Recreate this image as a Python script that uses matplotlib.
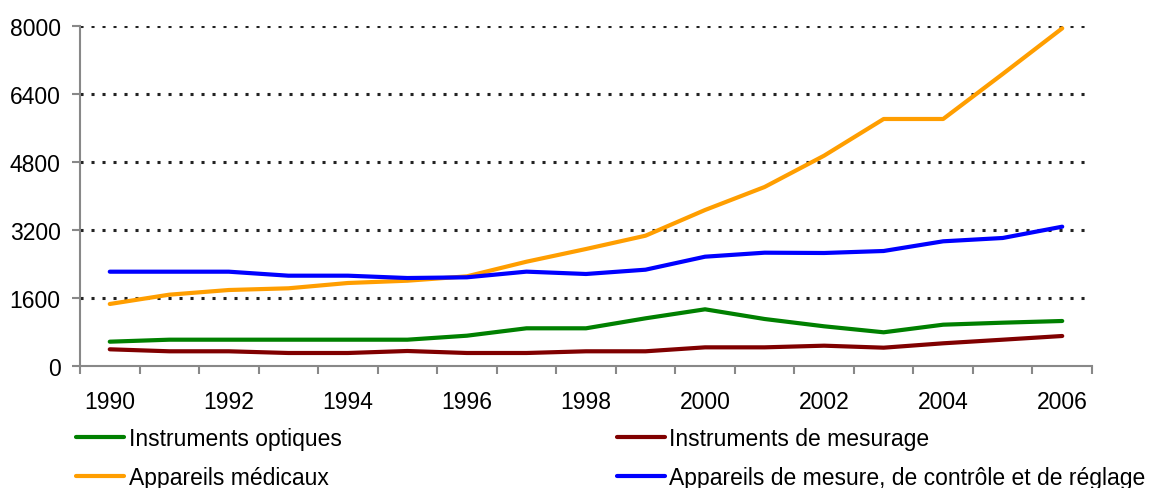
import matplotlib
matplotlib.use("Agg")
import matplotlib.pyplot as plt
from matplotlib.ticker import FixedLocator, NullFormatter
import numpy as np

plt.rcParams['font.family'] = ['Liberation Sans', 'DejaVu Sans']

years = list(range(1990, 2007))

optiques = [572, 619, 619, 619, 619, 619, 713, 887, 887, 1122, 1334,
            1106, 934, 793, 972, 1019, 1059]
mesurage = [393, 346, 346, 306, 306, 353, 306, 306, 346, 346, 439,
            439, 478, 431, 534, 619, 706]
medicaux = [1459, 1678, 1788, 1828, 1953, 2007, 2110, 2454, 2753, 3066, 3671,
            4212, 4949, 5812, 5812, 6871, 7946]
controle = [2219, 2219, 2219, 2125, 2125, 2070, 2087, 2220, 2165, 2266, 2572,
            2666, 2659, 2706, 2934, 3012, 3278]

labels = ["Instruments optiques", "Instruments de mesurage",
          "Appareils médicaux",
          "Appareils de mesure, de contrôle et de réglage"]
colors = ["#008000", "#800000", "#FF9E00", "#0000FF"]
series = [optiques, mesurage, medicaux, controle]

yticks = [0, 1600, 3200, 4800, 6400, 8000]

fig = plt.figure(figsize=(11.56, 4.89), dpi=100)
ax = fig.add_axes([80 / 1156, 1 - 367 / 489, 1012 / 1156, 340 / 489])

x = np.arange(len(years))
lines = {}
for lab, col, vals in zip(labels, colors, series):
    ln, = ax.plot(x, vals, color=col, lw=3, solid_capstyle='round',
                  solid_joinstyle='round', label=lab, zorder=3)
    lines[lab] = ln

ax.set_xlim(-0.5, len(years) - 0.5)
ax.set_ylim(0, 8000)

# horizontal dotted gridlines
for v in yticks[1:]:
    ax.axhline(v, color="#222222", lw=2.2, linestyle=(0, (1.0, 2.6)),
               zorder=1)

ax.set_yticks(yticks)
ax.set_yticklabels([str(v) for v in yticks])

# category boundaries carry tick marks, even years carry labels
ax.xaxis.set_major_locator(FixedLocator(np.arange(-0.5, len(years), 1.0)))
ax.xaxis.set_major_formatter(NullFormatter())
ax.xaxis.set_minor_locator(FixedLocator(x[::2]))
ax.set_xticklabels([str(y) for y in years[::2]], minor=True)

ax.tick_params(axis='x', which='major', length=6, width=1.5,
               color="#888888", direction='out')
ax.tick_params(axis='x', which='minor', length=0, labelsize=16.5, pad=17)
ax.tick_params(axis='y', length=6, width=1.5, color="#888888",
               labelsize=16.5, pad=8)

for side in ("top", "right"):
    ax.spines[side].set_visible(False)
for side in ("left", "bottom"):
    ax.spines[side].set_color("#888888")
    ax.spines[side].set_linewidth(1.5)

order = ["Instruments optiques", "Appareils médicaux",
         "Instruments de mesurage",
         "Appareils de mesure, de contrôle et de réglage"]
fig.legend([lines[k] for k in order], order, ncol=2, frameon=False,
           loc='upper left', bbox_to_anchor=(67 / 1156, 1 - 419 / 489),
           fontsize=16.5, handlelength=2.1, handletextpad=0.2,
           columnspacing=12.0, labelspacing=0.7, borderaxespad=0)

fig.savefig("out.png", dpi=100)
